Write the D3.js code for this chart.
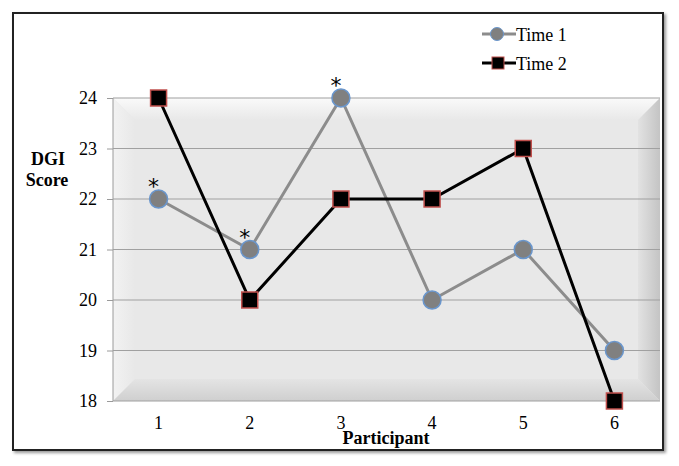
<!DOCTYPE html>
<html>
<head>
<meta charset="UTF-8" />
<title>DGI Score by Participant</title>
<script src="https://d3js.org/d3.v7.min.js"></script>
<style>
  body { margin: 0; background: #fff; }
  svg text { font-family: "Liberation Serif", "Times New Roman", serif; }
</style>
</head>
<body>
<div id="chart"></div>
<script>
var participants = [1, 2, 3, 4, 5, 6];
var time1 = [22, 21, 24, 20, 21, 19];
var time2 = [24, 20, 22, 22, 23, 18];
var starred = [1, 2, 3]; // asterisks over Time 1
var yTicks = [18, 19, 20, 21, 22, 23, 24];

var W = 679, H = 466;
var margin = {top: 98, right: 19, bottom: 65, left: 113},
    width = W - margin.left - margin.right,
    height = H - margin.top - margin.bottom;

var svg = d3.select("#chart").append("svg")
    .attr("width", W).attr("height", H);

var defs = svg.append("defs");
function grad(id, x1, y1, x2, y2, c1, c2) {
  var g = defs.append("linearGradient").attr("id", id)
    .attr("x1", x1).attr("y1", y1).attr("x2", x2).attr("y2", y2);
  g.append("stop").attr("offset", "0%").attr("stop-color", c1);
  g.append("stop").attr("offset", "100%").attr("stop-color", c2);
}
grad("bTop", 0, 0, 0, 1, "#fafafa", "#e8e8e8");
grad("bLeft", 0, 0, 1, 0, "#f2f2f2", "#e8e8e8");
grad("bRight", 0, 0, 1, 0, "#e2e2e2", "#c4c4c4");
grad("bBot", 0, 0, 0, 1, "#e4e4e4", "#cfcfcf");
var sh = defs.append("filter").attr("id", "shadow")
  .attr("x", "-5%").attr("y", "-5%").attr("width", "110%").attr("height", "110%");
sh.append("feDropShadow").attr("dx", 2).attr("dy", 2).attr("stdDeviation", 1.5)
  .attr("flood-color", "#000").attr("flood-opacity", 0.4);

// outer frame
svg.append("rect")
  .attr("x", 13).attr("y", 13).attr("width", 650).attr("height", 437)
  .attr("fill", "#fff").attr("stroke", "#222").attr("stroke-width", 2)
  .attr("filter", "url(#shadow)");

var g = svg.append("g")
  .attr("transform", "translate(" + margin.left + "," + margin.top + ")");

var x = d3.scaleBand().domain(participants).range([0, width]);
var y = d3.scaleLinear().domain([18, 24]).range([height, 0]);
var cx = function(p) { return x(p) + x.bandwidth() / 2; };

// bevelled plot area
var b = 22;
g.append("rect").attr("width", width).attr("height", height).attr("fill", "#e8e8e8");
g.append("path").attr("fill", "url(#bTop)")
  .attr("d", "M0,0H" + width + "L" + (width - b) + "," + b + "H" + b + "Z");
g.append("path").attr("fill", "url(#bLeft)")
  .attr("d", "M0,0L" + b + "," + b + "V" + (height - b) + "L0," + height + "Z");
g.append("path").attr("fill", "url(#bRight)")
  .attr("d", "M" + width + ",0V" + height + "L" + (width - b) + "," + (height - b) + "V" + b + "Z");
g.append("path").attr("fill", "url(#bBot)")
  .attr("d", "M0," + height + "H" + width + "L" + (width - b) + "," + (height - b) + "H" + b + "Z");

// gridlines + y axis
var yAxis = g.append("g")
  .call(d3.axisLeft(y).tickValues(yTicks).tickSize(6).tickPadding(10).tickFormat(d3.format("d")));
yAxis.attr("font-family", null);
yAxis.select(".domain").attr("stroke", "#9a9a9a").attr("d", "M0,0V" + height);
yAxis.selectAll(".tick line").attr("stroke", "#9a9a9a");
yAxis.selectAll(".tick text").attr("font-size", 18).attr("fill", "#000");
g.append("g").selectAll("line").data(yTicks).join("line")
  .attr("x1", 0).attr("x2", width)
  .attr("y1", function(d) { return y(d); }).attr("y2", function(d) { return y(d); })
  .attr("stroke", "#a0a0a0").attr("stroke-width", 1.2);

// x axis labels
var xAxis = g.append("g").attr("transform", "translate(0," + height + ")")
  .call(d3.axisBottom(x).tickSize(0).tickPadding(15));
xAxis.attr("font-family", null);
xAxis.select(".domain").remove();
xAxis.selectAll(".tick text").attr("font-size", 18).attr("fill", "#000");

// axis titles
svg.append("text").attr("x", 48).attr("y", 165).attr("text-anchor", "middle")
  .attr("font-weight", "bold").attr("font-size", 18).text("DGI");
svg.append("text").attr("x", 47).attr("y", 186).attr("text-anchor", "middle")
  .attr("font-weight", "bold").attr("font-size", 18).text("Score");
svg.append("text").attr("x", 386).attr("y", 444).attr("text-anchor", "middle")
  .attr("font-weight", "bold").attr("font-size", 18).text("Participant");

// lines
var line = function(vals) {
  return d3.line().x(function(d, i) { return cx(participants[i]); })
    .y(function(d) { return y(d); })(vals);
};
g.append("path").attr("d", line(time1)).attr("fill", "none")
  .attr("stroke", "#8c8c8c").attr("stroke-width", 3);
g.append("path").attr("d", line(time2)).attr("fill", "none")
  .attr("stroke", "#000").attr("stroke-width", 3);

// markers
g.selectAll("circle.t1").data(time1).join("circle").attr("class", "t1")
  .attr("cx", function(d, i) { return cx(participants[i]); })
  .attr("cy", function(d) { return y(d); })
  .attr("r", 9).attr("fill", "#808080").attr("stroke", "#6a96cc").attr("stroke-width", 1.5);
var s = 16;
g.selectAll("rect.t2").data(time2).join("rect").attr("class", "t2")
  .attr("x", function(d, i) { return cx(participants[i]) - s / 2; })
  .attr("y", function(d) { return y(d) - s / 2; })
  .attr("width", s).attr("height", s)
  .attr("fill", "#000").attr("stroke", "#c0504d").attr("stroke-width", 1.5);

// asterisks
g.selectAll("text.star").data(starred).join("text").attr("class", "star")
  .attr("x", function(p) { return cx(p) - 5; })
  .attr("y", function(p) { return y(time1[p - 1]) - 5; })
  .attr("text-anchor", "middle").attr("font-size", 22)
  .style("font-family", "DejaVu Sans, sans-serif")
  .text("*");

// legend
var legend = svg.append("g");
var items = [{name: "Time 1", type: "circle", y: 34}, {name: "Time 2", type: "square", y: 63}];
items.forEach(function(it) {
  legend.append("line").attr("x1", 482).attr("x2", 516).attr("y1", it.y).attr("y2", it.y)
    .attr("stroke", it.type === "circle" ? "#8c8c8c" : "#000").attr("stroke-width", 3);
  if (it.type === "circle") {
    legend.append("circle").attr("cx", 497).attr("cy", it.y).attr("r", 6.5)
      .attr("fill", "#808080").attr("stroke", "#6a96cc").attr("stroke-width", 1);
  } else {
    legend.append("rect").attr("x", 492).attr("y", it.y - 6).attr("width", 12).attr("height", 12)
      .attr("fill", "#000").attr("stroke", "#c0504d").attr("stroke-width", 1);
  }
  legend.append("text").attr("x", 516).attr("y", it.y + 7).attr("font-size", 18).text(it.name);
});
</script>
</body>
</html>
